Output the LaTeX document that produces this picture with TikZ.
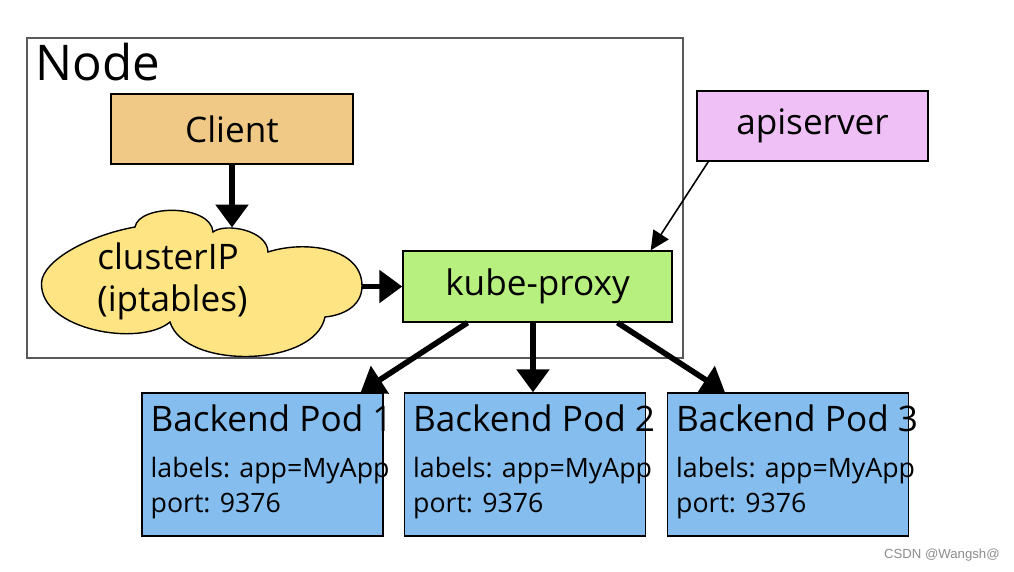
\documentclass[tikz,border=0pt]{standalone}
\usepackage{fontspec}
\setmainfont{Open Sans}
\newfontfamily\markfont{Liberation Sans}
\usepackage{xcolor}
\usetikzlibrary{positioning,arrows.meta}

\definecolor{clientfill}{RGB}{240,201,135}
\definecolor{apifill}{RGB}{238,192,245}
\definecolor{proxyfill}{RGB}{184,240,128}
\definecolor{cloudfill}{RGB}{254,228,130}
\definecolor{podfill}{RGB}{133,190,238}

\tikzset{
	box/.style={draw=black, line width=0.8pt, inner sep=0},
	bigtxt/.style={font=\fontsize{20}{24}\selectfont},
	smalltxt/.style={font=\fontsize{15.2}{18}\selectfont},
	fat/.style={line width=3.2pt, -{Triangle[length=0.46cm,width=0.64cm]}},
	watch/.style={line width=0.9pt, -{Triangle[length=0.38cm,width=0.36cm]}}
}

\begin{document}
\begin{tikzpicture}
					\useasboundingbox (0,0) rectangle (20.28,-11.42);
					\node[draw=black!65, line width=0.6pt, minimum width=13.12cm, minimum height=6.4cm] (frame) at (7.1,-3.96) {};
					\node[anchor=base west, inner sep=0, font=\fontsize{28}{32}\selectfont] (nodelbl) at (0.7,-1.6) {Node};
					\node[box, fill=clientfill, bigtxt, minimum width=4.84cm, minimum height=1.4cm] (client) at (4.64,-2.58) {Client};
					\node[box, fill=apifill, bigtxt, minimum width=4.62cm, minimum height=1.4cm] (api) at (16.25,-2.52) {apiserver};
					\node[box, fill=proxyfill, bigtxt, minimum width=5.38cm, minimum height=1.42cm] (kp) at (10.75,-5.73) {kube-proxy};
					\draw[draw=black, line width=0.8pt, fill=cloudfill] (2.70,-4.54)
						.. controls (2.78,-4.08) and (4.22,-4.08) .. (4.26,-4.64)
						.. controls (4.5,-4.45) and (5.35,-4.6) .. (5.36,-5.04)
						.. controls (6.1,-4.8) and (7.24,-4.95) .. (7.24,-5.72)
						.. controls (7.24,-6.1) and (6.9,-6.3) .. (6.50,-6.34)
						.. controls (6.3,-7.35) and (3.7,-7.4) .. (3.40,-6.44)
						.. controls (2.8,-6.95) and (0.8,-6.6) .. (0.83,-5.66)
						.. controls (0.85,-5.2) and (1.8,-4.7) .. cycle;
					\node[anchor=base west, inner sep=0, bigtxt] (ipa) at (1.94,-5.38) {clusterIP};
					\node[anchor=base west, inner sep=0, bigtxt] (ipb) at (1.94,-6.22) {(iptables)};
					\coordinate (cltop) at (4.64,-4.55);
					\coordinate (clright) at (7.24,-5.73);
					\foreach \i/\x in {1/5.25, 2/10.5, 3/15.76} {
						\node[box, fill=podfill, minimum width=4.82cm, minimum height=2.86cm] (pod\i) at (\x,-9.29) {};
						\node[anchor=base west, inner sep=0, bigtxt] (podt\i) at ([xshift=0.18cm, yshift=-0.78cm]pod\i.north west) {Backend Pod \i};
						\node[anchor=base west, inner sep=0, smalltxt] (podl\i) at ([xshift=0.18cm, yshift=-1.7cm]pod\i.north west) {labels: app=MyApp};
						\node[anchor=base west, inner sep=0, smalltxt] (podp\i) at ([xshift=0.18cm, yshift=-2.4cm]pod\i.north west) {port: 9376};
					}
					\draw[fat] (client.south) -- (cltop);
					\draw[fat] (clright) -- (kp.west);
					\draw[fat] ([xshift=-1.4cm]kp.south) -- ([xshift=-0.46cm]pod1.north east);
					\draw[fat] ([xshift=-0.09cm]kp.south) -- ([xshift=0.16cm]pod2.north);
					\draw[fat] ([xshift=1.6cm]kp.south) -- ([xshift=-1.26cm]pod3.north);
					\draw[watch] ([xshift=0.24cm]api.south west) -- ([xshift=-0.44cm]kp.north east);
					\node[anchor=base east, inner sep=0, text=black!45, font=\markfont\fontsize{7.5}{9}\selectfont] (mark) at (20.0,-11.16) {CSDN @Wangsh@};
				\end{tikzpicture}
\end{document}
